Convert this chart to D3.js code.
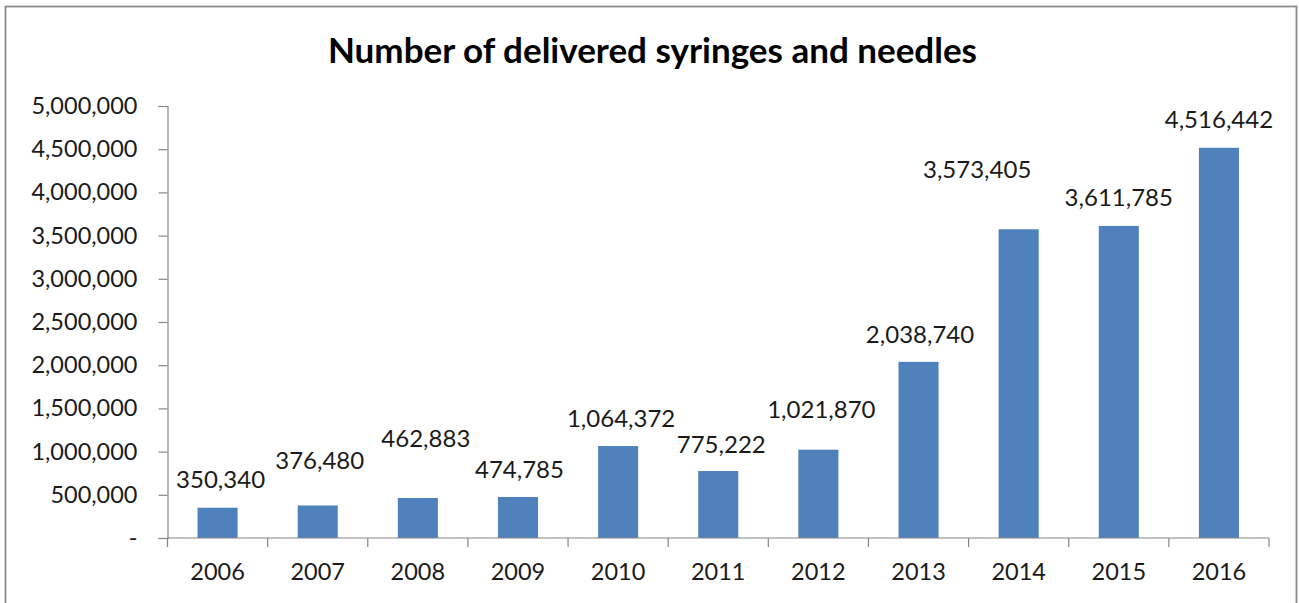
<!DOCTYPE html>
<html>
<head>
<meta charset="utf-8">
<script src="https://cdn.jsdelivr.net/npm/d3@7/dist/d3.min.js"></script>
<style>
  html, body { margin: 0; padding: 0; background: #fff; }
  svg { display: block; }
  text { font-family: Lato, "Open Sans", sans-serif; }
</style>
</head>
<body>
<svg id="chart" width="1299" height="603"></svg>
<script>
// ---- data ----
const years = ["2006","2007","2008","2009","2010","2011","2012","2013","2014","2015","2016"];
const values = [350340, 376480, 462883, 474785, 1064372, 775222, 1021870, 2038740, 3573405, 3611785, 4516442];
const yTicks = [0, 500000, 1000000, 1500000, 2000000, 2500000, 3000000, 3500000, 4000000, 4500000, 5000000];
const chartTitle = "Number of delivered syringes and needles";
// label placement nudges (px) relative to bar top-center, as in the original
const labelNudge = [[3,-20],[2,-36],[8,-51],[1.5,-19],[3,-19.5],[3,-18.5],[3,-31.5],[1.5,-19],[-41.5,-51],[0,-19.5],[0,-19.5]];

// ---- layout ----
const svg = d3.select("#chart");
const plotLeft = 167.5, plotRight = 1269, plotTop = 106, plotBottom = 538;

svg.append("rect")
  .attr("x", 5.5).attr("y", 6.5).attr("width", 1291).attr("height", 620)
  .attr("fill", "#fff").attr("stroke", "#8a8a8a").attr("stroke-width", 1.8);

svg.append("text")
  .attr("x", 652.5).attr("y", 62.5)
  .attr("text-anchor", "middle")
  .attr("font-size", 35).attr("font-weight", "bold").attr("fill", "#000")
  .text(chartTitle);

const x = d3.scaleBand().domain(years).range([plotLeft, plotRight]).paddingInner(0.6).paddingOuter(0.3);
const y = d3.scaleLinear().domain([0, 5000000]).range([plotBottom, plotTop]);

const fmt = d3.format(",");
const axisColor = "#868686";
const textColor = "#1a1a1a";

// bars
svg.append("g").selectAll("rect").data(values).join("rect")
  .attr("x", (d,i) => x(years[i]))
  .attr("y", d => y(d))
  .attr("width", x.bandwidth())
  .attr("height", d => y(0) - y(d))
  .attr("fill", "#4F81BD");

// y axis
const yAxis = d3.axisLeft(y).tickValues(yTicks)
  .tickFormat(d => d === 0 ? "-" : fmt(d))
  .tickSize(9).tickPadding(21);
const gy = svg.append("g").attr("transform", `translate(${plotLeft},0)`).call(yAxis);
gy.select(".domain").attr("stroke", axisColor).attr("stroke-width", 1.2);
gy.selectAll(".tick line").attr("stroke", axisColor).attr("stroke-width", 1.2);
gy.selectAll(".tick text").attr("font-size", 23.5).attr("fill", textColor)
  .attr("font-family", "Lato, 'Open Sans', sans-serif");

// x axis line and boundary ticks
const gx = svg.append("g");
gx.append("line").attr("x1", plotLeft).attr("x2", plotRight).attr("y1", y(0)).attr("y2", y(0))
  .attr("stroke", axisColor).attr("stroke-width", 1.2);
const bounds = years.map(d => x(d) - x.step() * x.paddingInner() / 2);
bounds.push(plotRight);
gx.selectAll("line.b").data(bounds).join("line").attr("class", "b")
  .attr("x1", d => d).attr("x2", d => d)
  .attr("y1", y(0)).attr("y2", y(0) + 9)
  .attr("stroke", axisColor).attr("stroke-width", 1.2);
gx.selectAll("text").data(years).join("text")
  .attr("x", d => x(d) + x.bandwidth() / 2)
  .attr("y", 580)
  .attr("text-anchor", "middle")
  .attr("font-size", 23.5).attr("fill", textColor)
  .text(d => d);

// data labels
svg.append("g").selectAll("text").data(values).join("text")
  .attr("x", (d,i) => x(years[i]) + x.bandwidth() / 2 + labelNudge[i][0])
  .attr("y", (d,i) => y(d) + labelNudge[i][1])
  .attr("text-anchor", "middle")
  .attr("font-size", 24).attr("fill", textColor)
  .text(d => fmt(d));
</script>
</body>
</html>
